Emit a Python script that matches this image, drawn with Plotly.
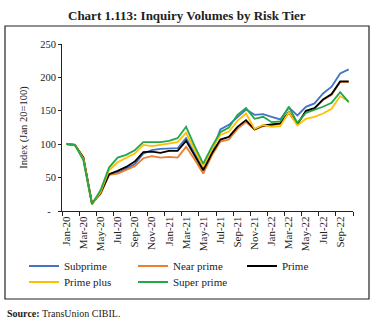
import plotly.graph_objects as go

months = ["Jan-20", "Feb-20", "Mar-20", "Apr-20", "May-20", "Jun-20", "Jul-20", "Aug-20",
          "Sep-20", "Oct-20", "Nov-20", "Dec-20", "Jan-21", "Feb-21", "Mar-21", "Apr-21",
          "May-21", "Jun-21", "Jul-21", "Aug-21", "Sep-21", "Oct-21", "Nov-21", "Dec-21",
          "Jan-22", "Feb-22", "Mar-22", "Apr-22", "May-22", "Jun-22", "Jul-22", "Aug-22",
          "Sep-22", "Oct-22"]

subprime = [100, 99, 78, 11, 27, 55, 57, 63, 70, 86, 91, 93, 94, 94, 109, 87, 63, 88, 122, 129,
            140, 152, 144, 145, 141, 137, 155, 143, 156, 161, 176, 186, 206, 212]
near_prime = [100, 99, 80, 12, 25, 54, 56, 61, 67, 79, 82, 80, 81, 80, 96, 77, 56, 83, 104, 107,
              123, 133, 122, 127, 128, 130, 147, 130, 149, 153, 166, 174, 193, 193]
prime = [100, 99, 80, 11, 27, 55, 60, 66, 74, 88, 89, 87, 90, 90, 105, 83, 61, 86, 107, 111,
         126, 136, 122, 128, 129, 131, 148, 130, 150, 154, 167, 175, 194, 194]
prime_plus = [100, 99, 78, 10, 28, 61, 73, 79, 86, 99, 97, 99, 101, 103, 117, 92, 67, 92, 114, 119,
              135, 146, 123, 129, 126, 127, 148, 128, 138, 141, 146, 153, 172, 164]
super_prime = [100, 99, 76, 10, 31, 65, 80, 84, 91, 103, 103, 103, 105, 109, 126, 97, 71, 96, 118, 125,
               144, 154, 138, 141, 133, 134, 156, 132, 147, 151, 156, 162, 178, 163]

ytick_vals = [0, 50, 100, 150, 200, 250]
ytick_text = ["-\u00a0\u00a0", "50", "100", "150", "200", "250"]

W, H = 374, 322
ML, MR, MT, MB = 62, 21, 44, 111
PW, PH = W - ML - MR, H - MT - MB

def px_x(p):
    return (p - ML) / PW

def px_y(p):
    return (H - MB - p) / PH

FONT = "Liberation Serif"

series = [
    ("Subprime", subprime, "#4472C4", "legend"),
    ("Near prime", near_prime, "#ED7D31", "legend"),
    ("Prime", prime, "#000000", "legend"),
    ("Prime plus", prime_plus, "#FFC000", "legend2"),
    ("Super prime", super_prime, "#22A84A", "legend2"),
]

fig = go.Figure()
for name, vals, color, leg in series:
    fig.add_trace(go.Scatter(x=months, y=vals, name=name, mode="lines",
                             line=dict(color=color, width=1.8), legend=leg))

fig.update_layout(
    width=W, height=H,
    margin=dict(l=ML, r=MR, t=MT, b=MB),
    paper_bgcolor="white", plot_bgcolor="white",
    font=dict(family=FONT, size=10.5, color="#222"),
    showlegend=True,
    legend=dict(orientation="h", x=px_x(24), xanchor="left", y=px_y(266), yanchor="middle",
                entrywidth=64, font=dict(size=11, family=FONT), bgcolor="rgba(0,0,0,0)"),
    legend2=dict(orientation="h", x=px_x(24), xanchor="left", y=px_y(282), yanchor="middle",
                 entrywidth=64, font=dict(size=11, family=FONT), bgcolor="rgba(0,0,0,0)"),
    xaxis=dict(type="category", range=[-0.5, len(months) - 0.5], tickmode="linear", tick0=0, dtick=2,
               tickson="boundaries", ticks="outside", ticklen=4, tickcolor="#222",
               showline=True, linecolor="#222", linewidth=1, showgrid=False, tickangle=-90,
               tickfont=dict(size=11, family=FONT)),
    yaxis=dict(range=[0, 250], tickvals=ytick_vals, ticktext=ytick_text, ticks="outside", ticklen=3,
               tickcolor="#222", showline=True, linecolor="#222", linewidth=1, showgrid=False,
               zeroline=False, tickfont=dict(size=10.5, family=FONT),
               title=dict(text="Index (Jan 20=100)", font=dict(size=10.5, family=FONT), standoff=10)),
    shapes=[dict(type="rect", xref="paper", yref="paper", x0=px_x(5), x1=px_x(369),
                 y0=px_y(299), y1=px_y(26), line=dict(color="#222", width=1.2), fillcolor="rgba(0,0,0,0)",
                 layer="below")],
    annotations=[
        dict(text="<b>Chart 1.113: Inquiry Volumes by Risk Tier</b>", xref="paper", yref="paper",
             x=px_x(187), y=px_y(15), xanchor="center", yanchor="middle", showarrow=False,
             font=dict(size=13, family=FONT, color="#222")),
        dict(text="<b>Source:</b> TransUnion CIBIL.", xref="paper", yref="paper",
             x=px_x(5), y=px_y(313), xanchor="left", yanchor="middle", showarrow=False,
             font=dict(size=10, family=FONT, color="#222")),
    ],
)

fig.write_html("out.html")
